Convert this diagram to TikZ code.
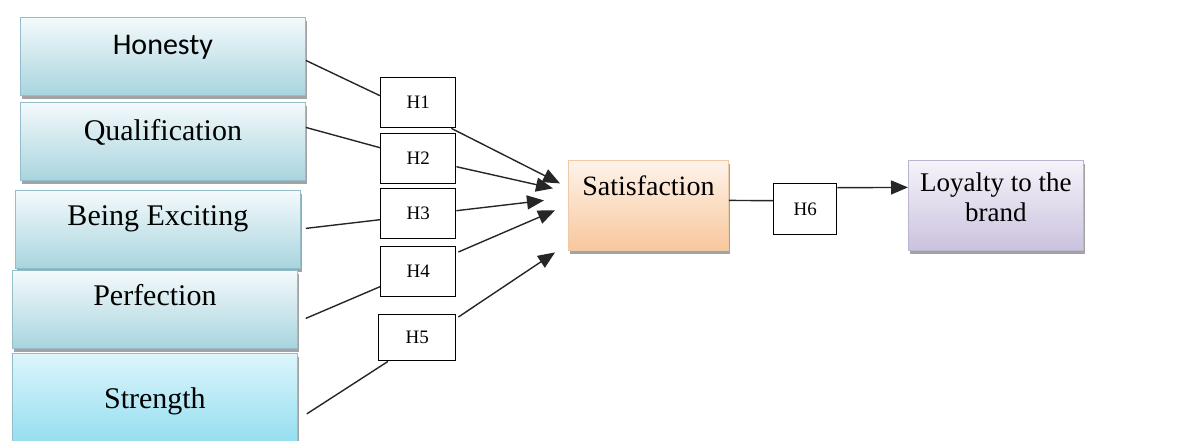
\documentclass[tikz,border=0pt]{standalone}
\usepackage{fontspec}
\setmainfont{Liberation Serif}
\newfontfamily\carlfont{Carlito}
\usetikzlibrary{arrows.meta,calc,shadows}
\definecolor{bluetop}{HTML}{F4FAFC}
\definecolor{bluebot}{HTML}{A8D4DE}
\definecolor{blueedge}{HTML}{93BDC8}
\definecolor{cyantop}{HTML}{DDF5FB}
\definecolor{cyanbot}{HTML}{8FDDF0}
\definecolor{orgtop}{HTML}{FEF3EA}
\definecolor{orgbot}{HTML}{F8C79C}
\definecolor{orgedge}{HTML}{F0C9A8}
\definecolor{purtop}{HTML}{F6F3FA}
\definecolor{purbot}{HTML}{CBC2DE}
\definecolor{puredge}{HTML}{BDB5CF}
\tikzset{
  shad/.style={drop shadow={shadow xshift=1.5pt, shadow yshift=-3.5pt, fill=black!60, opacity=0.6}},
  bigbox/.style={draw=blueedge, line width=0.8pt, top color=bluetop, bottom color=bluebot,
    anchor=north west, minimum width=285pt, minimum height=78pt, inner sep=0pt, shad},
  hbox/.style={draw=black, line width=1.4pt, fill=white, anchor=north west,
    minimum width=75pt, minimum height=50pt, inner sep=0pt,
    font=\fontsize{19}{22}\selectfont},
  lbl/.style={font=\fontsize{30}{34}\selectfont, inner sep=0pt, anchor=base},
  conn/.style={line width=1.4pt, draw=black!85},
  arr/.style={conn, -{Triangle[length=17pt, width=14pt]}}
}
\begin{document}
\begin{tikzpicture}[x=1pt, y=-1pt]
\useasboundingbox (0,0) rectangle (1188,441);
% left boxes
\node[bigbox] (hon) at (20,17) {};
\node[bigbox] (qua) at (20,102) {};
\node[bigbox] (exc) at (15,190) {};
\node[bigbox] (per) at (12,270) {};
\node[bigbox, top color=cyantop, bottom color=cyanbot, minimum height=95pt] (str) at (12,353) {};
\node[lbl, font=\carlfont\fontsize{30}{34}\selectfont] (honT) at ($(hon.north)+(0,38)$) {Honesty};
\node[lbl] (quaT) at ($(qua.north)+(0,38)$) {Qualification};
\node[lbl] (excT) at ($(exc.north)+(0,35)$) {Being Exciting};
\node[lbl] (perT) at ($(per.north)+(0,35)$) {Perfection};
\node[lbl] (strT) at ($(str.north)+(0,55)$) {Strength};
% H boxes
\node[hbox] (h1) at (380,77) {H1};
\node[hbox] (h2) at (380,133) {H2};
\node[hbox] (h3) at (380,188) {H3};
\node[hbox] (h4) at (380,246) {H4};
\node[hbox, minimum width=77pt, minimum height=46pt] (h5) at (378,314) {H5};
% satisfaction and loyalty
\node[draw=orgedge, line width=0.8pt, top color=orgtop, bottom color=orgbot, anchor=north west,
  minimum width=160pt, minimum height=90pt, inner sep=0pt, shad] (sat) at (568,160) {};
\node[lbl, font=\fontsize{28}{32}\selectfont] (satT) at ($(sat.north)+(0,35)$) {Satisfaction};
\node[draw=puredge, line width=0.8pt, top color=purtop, bottom color=purbot, anchor=north west,
  minimum width=175pt, minimum height=90pt, inner sep=0pt, shad] (loy) at (908,160) {};
\node[font=\fontsize{27}{30}\selectfont, align=center, inner sep=0pt, anchor=north] (loyT)
  at ($(loy.north)+(0,13)$) {Loyalty to the\\brand};
\node[hbox, minimum width=63pt, minimum height=51pt] (h6) at (773,183) {H6};
% arrow tips near satisfaction
\coordinate (t1) at ($(sat.west)+(-8,-22)$);
\coordinate (t2) at ($(sat.west)+(-15,-17)$);
\coordinate (t3) at ($(sat.west)+(-24,-5)$);
\coordinate (t4) at ($(sat.west)+(-13,5)$);
\coordinate (t5) at ($(sat.west)+(-13,47)$);
% connectors left -> H
\draw[conn] ($(hon.east)+(0,4)$) -- ($(h1.west)+(0,-7)$);
\draw[conn] ($(qua.east)+(0,-14)$) -- ($(h2.west)+(0,-11)$);
\draw[conn] ($(exc.east)+(5,-1)$) -- ($(h3.west)+(0,6)$);
\draw[conn] ($(per.east)+(8,9)$) -- ($(h4.west)+(0,15)$);
\draw[conn] ($(str.east)+(9,13)$) -- ($(h5.south west)+(10,0)$);
% connectors H -> satisfaction
\draw[arr] ($(h1.south east)+(-5,0)$) -- (t1);
\draw[arr] ($(h2.east)+(0,8)$) -- (t2);
\draw[arr] ($(h3.east)+(0,-3)$) -- (t3);
\draw[arr] ($(h4.north east)+(2,6)$) -- (t4);
\draw[arr] ($(h5.north east)+(2,3)$) -- (t5);
% satisfaction -> H6 -> loyalty
\draw[conn] ($(sat.east)+(0,-5)$) -- ($(h6.west)+(0,-8.5)$);
\draw[arr] ($(h6.east)+(0,-21.5)$) -- ($(loy.west)+(0,-18)$);
\end{tikzpicture}
\end{document}
